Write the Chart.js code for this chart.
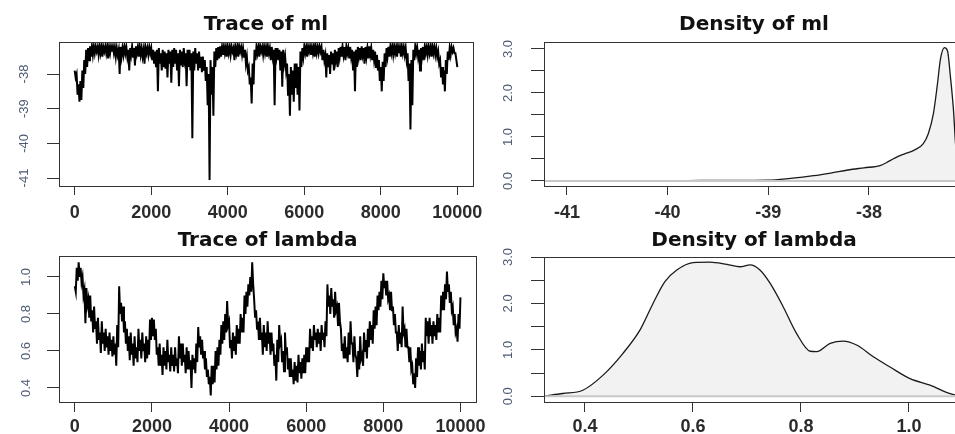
<!DOCTYPE html>
<html>
<head>
<meta charset="utf-8">
<title>MCMC trace and density</title>
<script src="https://cdn.jsdelivr.net/npm/chart.js@4.4.1/dist/chart.umd.min.js"></script>
<style>
  html, body { margin: 0; padding: 0; background: #fff; overflow: hidden; }
  #page { position: relative; width: 955px; height: 434px; overflow: hidden; }
  canvas { position: absolute; }
</style>
</head>
<body>
<div id="page">
  <canvas id="trace-ml" width="490" height="220" style="left:0px;top:0px;width:490px;height:220px"></canvas>
  <canvas id="dens-ml" width="490" height="220" style="left:490px;top:0px;width:490px;height:220px"></canvas>
  <canvas id="trace-lambda" width="490" height="214" style="left:0px;top:220px;width:490px;height:214px"></canvas>
  <canvas id="dens-lambda" width="490" height="214" style="left:490px;top:220px;width:490px;height:214px"></canvas>
</div>
<script>
// ---- data ----
// traces: upper and lower edge of the sample band, one pair every 50 iterations.
// the upper value sits at iteration 50*i, the lower one half a step later.
const iterStep = 50;

const traceMlHi = [
  -37.9, -38.0, -38.3, -38.2, -37.9, -37.6, -37.3, -37.25, -37.2, -37.2,
  -37.2, -37.2, -37.22, -37.2, -37.2, -37.22, -37.2, -37.2, -37.22, -37.2,
  -37.2, -37.22, -37.25, -37.3, -37.22, -37.25, -37.2, -37.22, -37.3, -37.25,
  -37.2, -37.25, -37.2, -37.22, -37.2, -37.25, -37.3, -37.22, -37.25, -37.22,
  -37.25, -37.3, -37.35, -37.3, -37.25, -37.4, -37.3, -37.35, -37.4, -37.3,
  -37.35, -37.3, -37.25, -37.3, -37.4, -37.3, -37.35, -37.25, -37.4, -37.3,
  -37.3, -37.4, -37.35, -37.25, -37.4, -37.35, -37.5, -37.5, -37.6, -37.8,
  -38.0, -37.6, -37.8, -37.35, -37.25, -37.22, -37.2, -37.22, -37.2, -37.22,
  -37.2, -37.22, -37.2, -37.25, -37.22, -37.2, -37.2, -37.22, -37.25, -37.3,
  -37.5, -37.8, -38.1, -37.7, -37.3, -37.22, -37.2, -37.2, -37.22, -37.2,
  -37.22, -37.2, -37.25, -37.22, -37.3, -37.25, -37.25, -37.3, -37.35, -37.3,
  -37.5, -37.7, -38.0, -37.8, -37.9, -37.7, -37.7, -37.8, -37.35, -37.25,
  -37.2, -37.22, -37.2, -37.2, -37.22, -37.2, -37.2, -37.22, -37.2, -37.22,
  -37.3, -37.45, -37.4, -37.45, -37.35, -37.4, -37.3, -37.35, -37.25, -37.22,
  -37.2, -37.22, -37.2, -37.25, -37.22, -37.3, -37.35, -37.3, -37.22, -37.25,
  -37.2, -37.25, -37.22, -37.25, -37.2, -37.25, -37.3, -37.35, -37.45, -37.6,
  -37.8, -37.65, -37.4, -37.25, -37.22, -37.2, -37.2, -37.2, -37.22, -37.2,
  -37.22, -37.2, -37.22, -37.25, -37.4, -37.7, -37.6, -37.3, -37.2, -37.22,
  -37.3, -37.25, -37.22, -37.2, -37.22, -37.2, -37.22, -37.2, -37.22, -37.25,
  -37.35, -37.6, -37.8, -37.9, -37.6, -37.35, -37.25, -37.22, -37.25, -37.4, -37.8
];
const traceMlLo = [
  -38.1, -38.6, -38.8, -38.75, -38.4, -38.0, -37.8, -37.6, -37.5, -37.45,
  -37.4, -37.35, -37.45, -37.4, -37.5, -37.35, -37.4, -37.55, -37.4, -37.35,
  -37.4, -37.5, -37.45, -38.0, -37.5, -37.45, -37.4, -37.5, -37.9, -37.45,
  -37.5, -37.75, -37.4, -37.5, -37.45, -37.5, -37.7, -37.4, -37.45, -37.4,
  -37.6, -37.7, -37.8, -38.5, -37.7, -37.9, -37.8, -37.85, -38.1, -37.7,
  -38.25, -37.8, -37.7, -37.9, -38.35, -37.75, -37.8, -37.6, -38.35, -37.8,
  -37.9, -39.85, -37.9, -37.7, -37.9, -37.8, -37.95, -37.9, -38.2, -38.9,
  -41.06, -38.6, -39.2, -37.8, -37.6, -37.55, -37.5, -37.45, -37.4, -37.5,
  -37.4, -37.45, -37.35, -37.6, -37.4, -37.5, -37.35, -37.45, -37.5, -37.7,
  -37.9, -38.3, -38.85, -38.3, -37.6, -37.4, -37.5, -37.35, -37.45, -37.4,
  -37.5, -37.4, -37.6, -37.5, -38.9, -37.5, -37.6, -37.9, -38.37, -37.7,
  -37.9, -38.6, -39.2, -38.6, -38.8, -38.4, -38.6, -39.05, -37.8, -37.5,
  -37.4, -37.5, -37.35, -37.45, -37.4, -37.5, -37.4, -37.4, -37.35, -37.6,
  -37.6, -38.1, -37.8, -38.0, -37.7, -37.9, -37.6, -37.8, -37.5, -37.5,
  -37.45, -37.6, -37.4, -37.55, -37.5, -37.9, -38.5, -37.8, -37.5, -37.6,
  -37.45, -37.7, -37.5, -37.55, -37.45, -37.6, -37.6, -37.8, -37.9, -38.2,
  -38.5, -38.2, -37.8, -37.5, -37.5, -37.4, -37.45, -37.4, -37.5, -37.4,
  -37.5, -37.4, -37.45, -37.6, -38.2, -39.6, -38.9, -37.6, -37.4, -37.5,
  -37.9, -37.5, -37.6, -37.4, -37.45, -37.4, -37.5, -37.4, -37.45, -37.5,
  -37.7, -38.1, -38.3, -38.5, -38.0, -37.6, -37.45, -37.35, -37.4, -37.6
];

const traceLambdaHi = [
  0.95, 1.05, 1.08, 1.05, 1.0, 0.93, 0.94, 0.88, 0.90, 0.82,
  0.84, 0.76, 0.78, 0.70, 0.76, 0.70, 0.72, 0.68, 0.70, 0.66,
  0.68, 0.64, 0.74, 0.95, 0.86, 0.84, 0.76, 0.72, 0.68, 0.70,
  0.64, 0.68, 0.62, 0.72, 0.66, 0.70, 0.64, 0.68, 0.66, 0.77,
  0.78, 0.77, 0.72, 0.62, 0.64, 0.58, 0.62, 0.60, 0.66, 0.58,
  0.62, 0.58, 0.62, 0.56, 0.68, 0.64, 0.64, 0.58, 0.62, 0.60,
  0.55, 0.58, 0.56, 0.64, 0.73, 0.68, 0.66, 0.60, 0.56, 0.50,
  0.46, 0.52, 0.52, 0.60, 0.62, 0.66, 0.74, 0.76, 0.80, 0.87,
  0.76, 0.66, 0.70, 0.68, 0.74, 0.72, 0.80, 0.78, 0.90, 0.92,
  0.96, 1.0, 1.08, 0.88, 0.82, 0.76, 0.78, 0.70, 0.74, 0.70,
  0.76, 0.70, 0.70, 0.64, 0.58, 0.66, 0.74, 0.66, 0.60, 0.70,
  0.62, 0.56, 0.56, 0.50, 0.54, 0.52, 0.58, 0.54, 0.56, 0.58,
  0.62, 0.62, 0.72, 0.68, 0.74, 0.70, 0.72, 0.70, 0.74, 0.70,
  0.76, 0.96, 0.90, 0.94, 0.88, 0.92, 0.84, 0.86, 0.72, 0.64,
  0.68, 0.62, 0.70, 0.76, 0.64, 0.68, 0.56, 0.60, 0.68, 0.58,
  0.70, 0.66, 0.72, 0.76, 0.74, 0.82, 0.84, 0.90, 0.92, 0.98,
  1.02, 0.98, 0.98, 0.90, 0.92, 0.84, 0.80, 0.70, 0.74, 0.70,
  0.84, 0.72, 0.72, 0.62, 0.62, 0.52, 0.48, 0.56, 0.62, 0.60,
  0.64, 0.60, 0.78, 0.76, 0.78, 0.74, 0.76, 0.74, 0.80, 0.78,
  0.90, 0.92, 0.96, 1.03, 0.96, 0.92, 0.84, 0.80, 0.72, 0.80, 0.89
];
const traceLambdaLo = [
  0.92, 0.98, 1.0, 0.97, 0.90, 0.75, 0.85, 0.78, 0.76, 0.70,
  0.72, 0.64, 0.66, 0.59, 0.64, 0.60, 0.62, 0.58, 0.60, 0.57,
  0.58, 0.52, 0.62, 0.80, 0.76, 0.70, 0.64, 0.60, 0.55, 0.58,
  0.52, 0.56, 0.54, 0.60, 0.56, 0.60, 0.54, 0.56, 0.58, 0.66,
  0.68, 0.66, 0.58, 0.52, 0.52, 0.47, 0.52, 0.50, 0.54, 0.49,
  0.52, 0.49, 0.52, 0.48, 0.56, 0.52, 0.54, 0.48, 0.50, 0.50,
  0.40, 0.50, 0.48, 0.54, 0.62, 0.58, 0.56, 0.50, 0.46, 0.42,
  0.36, 0.42, 0.43, 0.50, 0.52, 0.58, 0.64, 0.66, 0.70, 0.74,
  0.62, 0.56, 0.60, 0.58, 0.64, 0.64, 0.70, 0.70, 0.80, 0.84,
  0.90, 0.92, 0.96, 0.78, 0.72, 0.66, 0.66, 0.58, 0.62, 0.60,
  0.64, 0.58, 0.60, 0.52, 0.44, 0.54, 0.64, 0.54, 0.49, 0.58,
  0.50, 0.46, 0.46, 0.42, 0.44, 0.43, 0.48, 0.45, 0.48, 0.48,
  0.54, 0.54, 0.62, 0.60, 0.66, 0.62, 0.64, 0.60, 0.66, 0.62,
  0.68, 0.84, 0.80, 0.84, 0.78, 0.82, 0.74, 0.76, 0.60, 0.56,
  0.56, 0.54, 0.58, 0.64, 0.54, 0.58, 0.46, 0.50, 0.56, 0.52,
  0.60, 0.56, 0.62, 0.66, 0.64, 0.72, 0.74, 0.82, 0.84, 0.88,
  0.94, 0.90, 0.88, 0.82, 0.82, 0.74, 0.70, 0.60, 0.64, 0.62,
  0.70, 0.62, 0.62, 0.54, 0.50, 0.42, 0.40, 0.46, 0.52, 0.50,
  0.54, 0.50, 0.68, 0.64, 0.68, 0.64, 0.68, 0.66, 0.70, 0.70,
  0.82, 0.82, 0.88, 0.92, 0.86, 0.82, 0.74, 0.70, 0.65, 0.72
];

// density curves (x, y)
const densMlX = [-41.06, -40.6, -40.2, -39.8, -39.4, -39.0, -38.78, -38.55, -38.38, -38.21,
  -38.05, -37.89, -37.8, -37.72, -37.64, -37.55, -37.46, -37.41, -37.36, -37.32,
  -37.29, -37.25, -37.22, -37.19, -37.16, -37.14, -37.1, -37.05];
const densMlY = [0.0, 0.002, 0.005, 0.01, 0.015, 0.02, 0.06, 0.12, 0.18, 0.25,
  0.30, 0.35, 0.45, 0.55, 0.62, 0.70, 0.85, 1.08, 1.53, 2.2,
  2.77, 3.03, 2.96, 2.35, 1.6, 0.85, 0.3, 0.08];

const densLambdaX = [0.326, 0.359, 0.396, 0.433, 0.47, 0.502, 0.526, 0.548, 0.57, 0.60,
  0.631, 0.663, 0.687, 0.706, 0.724, 0.743, 0.767, 0.792, 0.817, 0.829,
  0.854, 0.878, 0.904, 0.934, 0.965, 1.002, 1.039, 1.081, 1.11];
const densLambdaY = [0.01, 0.06, 0.13, 0.45, 0.92, 1.43, 2.0, 2.47, 2.72, 2.88,
  2.89, 2.84, 2.79, 2.83, 2.72, 2.43, 1.93, 1.35, 0.97, 0.96,
  1.14, 1.19, 1.10, 0.85, 0.63, 0.38, 0.24, 0.04, 0.01];

// tick positions
const traceXTicks = [0, 2000, 4000, 6000, 8000, 10000];
const traceMlYTicks = [-41, -40, -39, -38];
const traceLambdaYTicks = [0.4, 0.6, 0.8, 1.0];
const densMlXTicks = [-41, -40, -39, -38];
const densLambdaXTicks = [0.4, 0.6, 0.8, 1.0];
const densYTicks = [0, 0.5, 1.0, 1.5, 2.0, 2.5, 3.0];

// axis limits (R style, range padded by 4%)
const traceXLim = [-410, 10410];
const traceMlYLim = [-41.23, -37.077];
const traceLambdaYLim = [0.3243, 1.1135];
const densMlXLim = [-41.228, -37.056];
const densMlYLim = [-0.114, 3.159];
const densLambdaXLim = [0.3241, 1.1019];
const densLambdaYLim = [-0.123, 3.0];

// ---- drawing ----
const boxPlugin = {
    id: "box",
    afterDatasetsDraw(chart) {
        const a = chart.chartArea;
        const ctx = chart.ctx;
        ctx.save();
        ctx.strokeStyle = "#333";
        ctx.lineWidth = 1;
        ctx.strokeRect(Math.round(a.left) + 0.5, Math.round(a.top) + 0.5,
            Math.round(a.right - a.left), Math.round(a.bottom - a.top));
        ctx.restore();
    }
};

// zig-zag between the upper and lower edge of the band
function tracePoints(hi, lo) {
    const pts = [];
    hi.forEach((v, i) => {
        pts.push({ x: i * iterStep, y: v });
        if (i < lo.length) pts.push({ x: i * iterStep + iterStep / 2, y: lo[i] });
    });
    return pts;
}

function densityPoints(xs, ys) {
    return xs.map((x, i) => ({ x: x, y: ys[i] }));
}

function traceDataset(hi, lo) {
    return {
        data: tracePoints(hi, lo),
        borderColor: "#000",
        borderWidth: 2,
        pointRadius: 0,
        tension: 0,
        fill: false
    };
}

function densityDatasets(xs, ys, xLim) {
    return [
        {
            // zero line, drawn on top
            data: [{ x: xLim[0], y: 0 }, { x: xLim[1], y: 0 }],
            borderColor: "#c8c8c8",
            borderWidth: 2,
            pointRadius: 0,
            fill: false
        },
        {
            data: densityPoints(xs, ys),
            borderColor: "#1a1a1a",
            borderWidth: 1.3,
            pointRadius: 0,
            cubicInterpolationMode: "monotone",
            fill: "origin",
            backgroundColor: "#f2f2f2"
        }
    ];
}

function makePanel(id, cfg) {
    return new Chart(document.getElementById(id), {
        type: "line",
        data: { datasets: cfg.datasets },
        options: {
            responsive: false,
            animation: false,
            devicePixelRatio: 1,
            layout: { padding: { left: 0, right: cfg.padRight, top: 0, bottom: 0 } },
            plugins: {
                legend: { display: false },
                tooltip: { enabled: false },
                title: {
                    display: true,
                    text: cfg.title,
                    fullSize: false,
                    color: "#111",
                    font: { family: "DejaVu Sans", weight: "bold", size: 20, lineHeight: 1.2 },
                    padding: { top: cfg.titleTop, bottom: cfg.titleBottom }
                }
            },
            scales: {
                x: {
                    type: "linear",
                    min: cfg.xLim[0],
                    max: cfg.xLim[1],
                    afterFit: (s) => { s.height = cfg.xAxisHeight; },
                    afterBuildTicks: (s) => { s.ticks = cfg.xTicks.map(v => ({ value: v })); },
                    grid: { drawOnChartArea: false, drawTicks: true, tickLength: cfg.xTickLen, tickColor: "#333", tickWidth: 1 },
                    border: { display: false },
                    ticks: {
                        autoSkip: false,
                        maxRotation: 0,
                        padding: cfg.xPad,
                        color: "#2b2b2b",
                        font: { family: "Liberation Sans", weight: "bold", size: 18 },
                        callback: cfg.xFmt
                    }
                },
                y: {
                    type: "linear",
                    min: cfg.yLim[0],
                    max: cfg.yLim[1],
                    afterFit: (s) => { s.width = cfg.yAxisWidth; },
                    afterBuildTicks: (s) => { s.ticks = cfg.yTicks.map(v => ({ value: v })); },
                    grid: { drawOnChartArea: false, drawTicks: true, tickLength: cfg.yTickLen, tickColor: "#333", tickWidth: 1 },
                    border: { display: false },
                    ticks: {
                        autoSkip: false,
                        minRotation: 90,
                        maxRotation: 90,
                        crossAlign: "center",
                        padding: cfg.yPad,
                        color: "#4f5b73",
                        font: { family: "Liberation Sans", size: 13 },
                        callback: cfg.yFmt
                    }
                }
            }
        },
        plugins: [boxPlugin]
    });
}

const densLabel = (v) => (Number.isInteger(v) ? v.toFixed(1) : "");

makePanel("trace-ml", {
    title: "Trace of ml",
    datasets: [traceDataset(traceMlHi, traceMlLo)],
    xLim: traceXLim, yLim: traceMlYLim,
    xTicks: traceXTicks, yTicks: traceMlYTicks,
    xFmt: (v) => String(v), yFmt: (v) => String(v),
    padRight: 9, yAxisWidth: 59, xAxisHeight: 34,
    titleTop: 13, titleBottom: 5,
    xTickLen: 9, xPad: 7, yTickLen: 12, yPad: 13
});

makePanel("dens-ml", {
    title: "Density of ml",
    datasets: densityDatasets(densMlX, densMlY, densMlXLim),
    xLim: densMlXLim, yLim: densMlYLim,
    xTicks: densMlXTicks, yTicks: densYTicks,
    xFmt: (v) => String(v), yFmt: densLabel,
    padRight: 16, yAxisWidth: 54, xAxisHeight: 34,
    titleTop: 13, titleBottom: 5,
    xTickLen: 9, xPad: 7, yTickLen: 13, yPad: 14
});

makePanel("trace-lambda", {
    title: "Trace of lambda",
    datasets: [traceDataset(traceLambdaHi, traceLambdaLo)],
    xLim: traceXLim, yLim: traceLambdaYLim,
    xTicks: traceXTicks, yTicks: traceLambdaYTicks,
    xFmt: (v) => String(v), yFmt: (v) => v.toFixed(1),
    padRight: 9, yAxisWidth: 59, xAxisHeight: 32,
    titleTop: 9, titleBottom: 3,
    xTickLen: 10, xPad: 4, yTickLen: 12, yPad: 12
});

makePanel("dens-lambda", {
    title: "Density of lambda",
    datasets: densityDatasets(densLambdaX, densLambdaY, densLambdaXLim),
    xLim: densLambdaXLim, yLim: densLambdaYLim,
    xTicks: densLambdaXTicks, yTicks: densYTicks,
    xFmt: (v) => v.toFixed(1), yFmt: densLabel,
    padRight: 16, yAxisWidth: 54, xAxisHeight: 32,
    titleTop: 9, titleBottom: 4,
    xTickLen: 10, xPad: 4, yTickLen: 13, yPad: 14
});
</script>
</body>
</html>
